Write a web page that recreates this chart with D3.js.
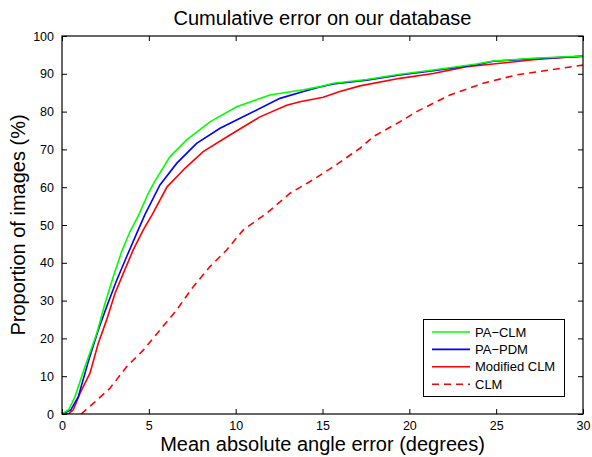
<!DOCTYPE html>
<html>
<head>
<meta charset="utf-8">
<script src="https://cdn.jsdelivr.net/npm/d3@7"></script>
<style>
  body { margin: 0; background: #fff; }
  text { font-family: "Liberation Sans", Arial, sans-serif; fill: #000; }
</style>
</head>
<body>
<svg id="chart" width="592" height="457"></svg>
<script>
// ---- data ----
const seriesNames = ["PA\u2212CLM", "PA\u2212PDM", "Modified CLM", "CLM"];
const seriesColors = ["#00ff00", "#0000ff", "#ff0000", "#ff0000"];

const paClmX = [0, 0.4, 0.75, 1.32, 2.0, 2.48, 2.95, 3.43, 3.91, 4.4, 4.97, 5.3, 6.22, 7.18, 8.52, 10.06, 11.97, 13.9, 14.85, 15.62, 17.54, 19.46, 21.38, 23.87, 24.83, 27.13, 30];
const paClmY = [0, 1.2, 4.6, 12.5, 21.3, 29.3, 36.3, 42.9, 48.2, 52.5, 58.4, 61.2, 68.1, 72.5, 77.3, 81.3, 84.4, 85.8, 86.6, 87.5, 88.5, 89.9, 91.0, 92.6, 93.4, 94.1, 94.7];

const paPdmX = [0, 0.5, 0.94, 1.51, 2.09, 2.57, 3.15, 3.72, 4.3, 4.78, 5.64, 6.6, 7.75, 9.1, 10.63, 12.55, 13.9, 14.85, 15.62, 17.54, 19.46, 21.38, 23.87, 24.83, 27.13, 30];
const paPdmY = [0, 1.0, 4.6, 13.8, 22.2, 28.4, 35.4, 41.6, 47.8, 52.8, 60.6, 66.3, 71.6, 75.6, 79.1, 83.5, 85.3, 86.5, 87.3, 88.3, 89.7, 90.8, 92.4, 93.3, 94.0, 94.6];

const modClmX = [0, 0.4, 0.65, 1.04, 1.61, 2.09, 2.57, 3.05, 3.53, 4.1, 4.68, 5.2, 6.05, 7.08, 8.13, 9.67, 11.4, 12.94, 13.7, 15.04, 16.0, 17.16, 19.46, 21.38, 23.3, 24.83, 27.13, 30];
const modClmY = [0, 0.1, 1.1, 5.5, 10.8, 18.7, 24.9, 31.9, 37.2, 43.4, 48.7, 52.8, 60.1, 65.0, 69.4, 73.8, 78.6, 81.7, 82.6, 83.8, 85.3, 86.8, 88.8, 90.1, 91.9, 92.6, 93.7, 94.7];

const clmX = [1.1, 1.8, 2.76, 3.72, 4.68, 5.64, 6.6, 7.56, 8.52, 9.48, 10.44, 11.78, 13.13, 14.28, 15.62, 17.16, 17.93, 19.46, 20.42, 22.34, 24.25, 26.17, 28.09, 30];
const clmY = [0, 2.8, 6.8, 12.5, 16.9, 22.2, 27.5, 33.7, 39.0, 43.4, 48.7, 53.1, 58.4, 61.5, 65.4, 70.3, 73.4, 77.3, 80.0, 84.4, 87.5, 89.7, 91.0, 92.3];

const xTicks = [0, 5, 10, 15, 20, 25, 30];
const yTicks = [0, 10, 20, 30, 40, 50, 60, 70, 80, 90, 100];

const titleText = "Cumulative error on our database";
const xLabel = "Mean absolute angle error (degrees)";
const yLabel = "Proportion of images (%)";

// ---- layout ----
const svg = d3.select("#chart");
const L = 62, R = 583, T = 36, B = 414;
const x = d3.scaleLinear().domain([0, 30]).range([L, R]);
const y = d3.scaleLinear().domain([0, 100]).range([B, T]);

const zip = (xs, ys) => xs.map((v, i) => [v, ys[i]]);
const series = [
  { name: seriesNames[0], color: seriesColors[0], data: zip(paClmX, paClmY), dash: null },
  { name: seriesNames[1], color: seriesColors[1], data: zip(paPdmX, paPdmY), dash: null },
  { name: seriesNames[2], color: seriesColors[2], data: zip(modClmX, modClmY), dash: null },
  { name: seriesNames[3], color: seriesColors[3], data: zip(clmX, clmY), dash: "7,5" }
];

const line = d3.line().x(d => x(d[0])).y(d => y(d[1]));

svg.append("clipPath").attr("id", "clip")
  .append("rect").attr("x", L).attr("y", T).attr("width", R - L).attr("height", B - T);

const g = svg.append("g").attr("clip-path", "url(#clip)");
[3, 2, 1, 0].forEach(i => {
  const s = series[i];
  g.append("path").datum(s.data)
    .attr("d", line)
    .attr("fill", "none")
    .attr("stroke", s.color)
    .attr("stroke-width", 1.6)
    .attr("stroke-dasharray", s.dash);
});

// axes (ticks inward, mirrored)
const tl = 5;
const axG = svg.append("g");
axG.append("g").attr("transform", `translate(0,${B})`)
  .call(d3.axisBottom(x).tickValues(xTicks).tickSizeInner(-tl).tickSizeOuter(0).tickPadding(7).tickFormat(d3.format("d")));
axG.append("g").attr("transform", `translate(0,${T})`)
  .call(d3.axisTop(x).tickValues(xTicks).tickSizeInner(-tl).tickSizeOuter(0).tickFormat(""));
axG.append("g").attr("transform", `translate(${L},0)`)
  .call(d3.axisLeft(y).tickValues(yTicks).tickSizeInner(-tl).tickSizeOuter(0).tickPadding(8).tickFormat(d3.format("d")));
axG.append("g").attr("transform", `translate(${R},0)`)
  .call(d3.axisRight(y).tickValues(yTicks).tickSizeInner(-tl).tickSizeOuter(0).tickFormat(""));
axG.selectAll(".domain").remove();
axG.selectAll(".tick line").attr("stroke", "#000").attr("stroke-width", 1);
axG.selectAll(".tick text").attr("font-size", 12.5).attr("font-family", "Liberation Sans, Arial, sans-serif").attr("fill", "#000");

svg.append("rect").attr("x", L).attr("y", T).attr("width", R - L).attr("height", B - T)
  .attr("fill", "none").attr("stroke", "#000").attr("stroke-width", 1.2);

// titles
svg.append("text").attr("x", (L + R) / 2).attr("y", 25).attr("text-anchor", "middle")
  .attr("font-size", 20).text(titleText);
svg.append("text").attr("x", (L + R) / 2).attr("y", 450.5).attr("text-anchor", "middle")
  .attr("font-size", 20).text(xLabel);
svg.append("text").attr("transform", `translate(25,${(T + B) / 2}) rotate(-90)`).attr("text-anchor", "middle")
  .attr("font-size", 20).text(yLabel);

// legend
const lg = svg.append("g");
lg.append("rect").attr("x", 423.5).attr("y", 319.5).attr("width", 141).attr("height", 77)
  .attr("fill", "#fff").attr("stroke", "#000").attr("stroke-width", 1);
series.forEach((s, i) => {
  const yy = 332 + i * 17.4;
  lg.append("line").attr("x1", 432).attr("x2", 470).attr("y1", yy).attr("y2", yy)
    .attr("stroke", s.color).attr("stroke-width", 1.6).attr("stroke-dasharray", s.dash);
  lg.append("text").attr("x", 475).attr("y", yy + 4.5).attr("font-size", 13).text(s.name);
});
</script>
</body>
</html>
